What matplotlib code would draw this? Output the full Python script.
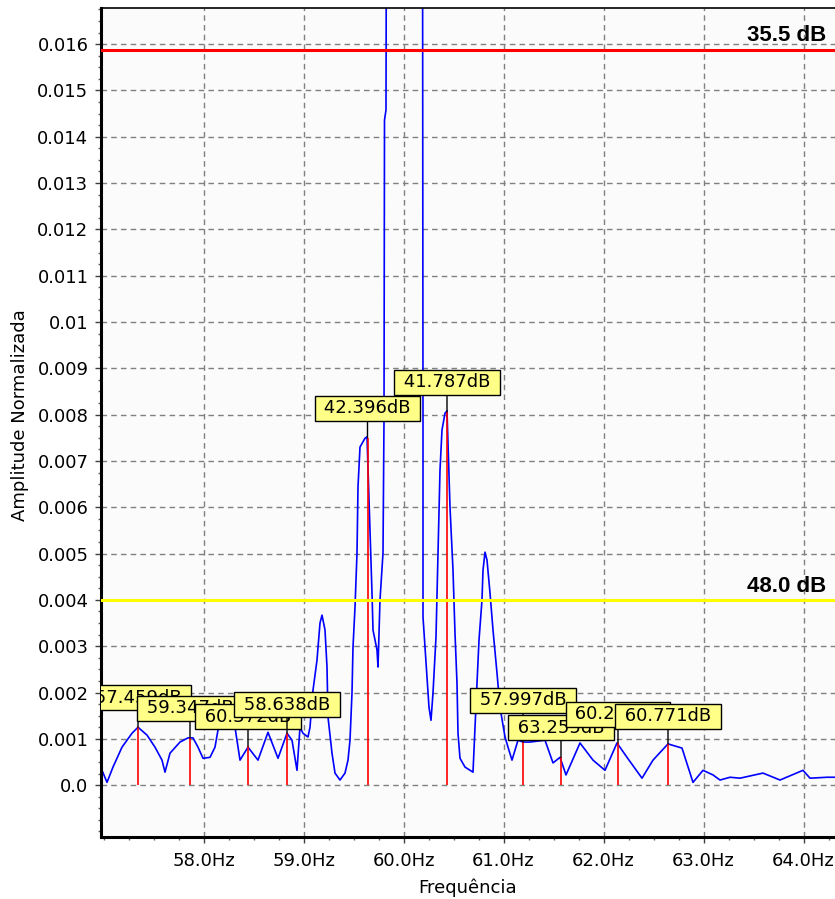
import matplotlib
matplotlib.use("Agg")
import matplotlib.pyplot as plt
from matplotlib.ticker import FixedLocator, MultipleLocator

# spectrum (Hz, normalised amplitude)
freq = [56.975, 56.985, 57.035, 57.095, 57.185, 57.285, 57.345, 57.435, 57.515, 57.585,
        57.615, 57.665, 57.765, 57.845, 57.895, 57.945, 57.995, 58.065, 58.115, 58.145,
        58.185, 58.245, 58.285, 58.315, 58.365, 58.445, 58.545, 58.645, 58.745, 58.835,
        58.885, 58.935, 58.965, 58.995, 59.045, 59.065, 59.095, 59.135, 59.165, 59.185,
        59.215, 59.235, 59.245, 59.285, 59.315, 59.365, 59.415, 59.445, 59.465, 59.485,
        59.495, 59.515, 59.535, 59.545, 59.565, 59.615, 59.635, 59.645, 59.665, 59.685,
        59.695, 59.735, 59.745, 59.765, 59.795, 59.805, 59.81, 59.825, 59.83, 60.005,
        60.19, 60.195, 60.195, 60.215, 60.235, 60.255, 60.275, 60.295, 60.325, 60.345,
        60.365, 60.385, 60.415, 60.435, 60.445, 60.465, 60.495, 60.515, 60.535, 60.545,
        60.565, 60.615, 60.695, 60.715, 60.735, 60.755, 60.785, 60.795, 60.815, 60.835,
        60.865, 60.895, 60.935, 60.965, 61.015, 61.045, 61.085, 61.145, 61.195, 61.265,
        61.415, 61.495, 61.565, 61.625, 61.765, 61.895, 62.015, 62.135, 62.235, 62.385,
        62.495, 62.645, 62.785, 62.895, 62.995, 63.095, 63.165, 63.265, 63.365, 63.595,
        63.765, 63.995, 64.065, 64.235, 64.325]
amp = [0.00037, 0.00032, 0.00006, 0.00039, 0.00082, 0.00112, 0.00125, 0.00108, 0.00082, 0.00054,
       0.00028, 0.00069, 0.00093, 0.00102, 0.00102, 0.00082, 0.00058, 0.00060, 0.00082, 0.00119,
       0.00151, 0.00158, 0.00136, 0.00125, 0.00054, 0.00082, 0.00054, 0.00114, 0.00058, 0.00112,
       0.00097, 0.00032, 0.00125, 0.00112, 0.00104, 0.00125, 0.00205, 0.00270, 0.00350, 0.00367,
       0.00335, 0.00255, 0.00147, 0.00069, 0.00026, 0.00011, 0.00026, 0.00054, 0.00097, 0.00199,
       0.00298, 0.00384, 0.00501, 0.00644, 0.00730, 0.00749, 0.00752, 0.00685, 0.00551, 0.00415,
       0.00335, 0.00292, 0.00255, 0.00400, 0.00501, 0.00788, 0.01436, 0.01458, 0.02000, 0.05000,
       0.02000, 0.00788, 0.00363, 0.00298, 0.00233, 0.00168, 0.00140, 0.00199, 0.00320, 0.00501,
       0.00680, 0.00767, 0.00803, 0.00808, 0.00739, 0.00600, 0.00464, 0.00328, 0.00220, 0.00112,
       0.00058, 0.00039, 0.00028, 0.00125, 0.00220, 0.00313, 0.00400, 0.00464, 0.00503, 0.00486,
       0.00415, 0.00335, 0.00242, 0.00168, 0.00104, 0.00082, 0.00054, 0.00097, 0.00093, 0.00093,
       0.00097, 0.00048, 0.00060, 0.00022, 0.00091, 0.00054, 0.00032, 0.00091, 0.00060, 0.00015,
       0.00054, 0.00089, 0.00080, 0.00006, 0.00032, 0.00022, 0.00011, 0.00017, 0.00015, 0.00026,
       0.00011, 0.00032, 0.00015, 0.00017, 0.00017]

# marked peaks
peak_freq = [57.345, 57.865, 58.445, 58.835, 59.64, 60.435, 61.195, 61.575, 62.145, 62.645]
peak_amp = [0.00125, 0.00102, 0.00084, 0.00112, 0.00750, 0.00806, 0.00093, 0.00060, 0.00091, 0.00089]
peak_labels = ["57.459dB", "59.347dB", "60.372dB", "58.638dB", "42.396dB",
               "41.787dB", "57.997dB", "63.255dB", "60.218dB", "60.771dB"]
stem_px = [17, 17, 17, 16, 17, 17, 29, 17, 16, 15]

# threshold lines
level_values = [0.01588, 0.004]
level_labels = ["35.5 dB", "48.0 dB"]
level_colors = ["#ff0000", "#ffff00"]

xticks = [58.0, 59.0, 60.0, 61.0, 62.0, 63.0, 64.0]
xtick_labels = ["58.0Hz", "59.0Hz", "60.0Hz", "61.0Hz", "62.0Hz", "63.0Hz", "64.0Hz"]
yticks = [0.0, 0.001, 0.002, 0.003, 0.004, 0.005, 0.006, 0.007, 0.008,
          0.009, 0.010, 0.011, 0.012, 0.013, 0.014, 0.015, 0.016]
ytick_labels = ["0.0", "0.001", "0.002", "0.003", "0.004", "0.005", "0.006", "0.007", "0.008",
                "0.009", "0.01", "0.011", "0.012", "0.013", "0.014", "0.015", "0.016"]

plt.rcParams['font.family'] = ['DejaVu Sans']

fig = plt.figure(figsize=(8.35, 8.99), dpi=100)
ax = fig.add_axes([101 / 835, 1 - 837 / 899, 1 - 101 / 835, (837 - 8) / 899])
ax.set_facecolor('#fbfbfb')

ax.plot(freq, amp, color='#0000ff', lw=1.2, zorder=2)

for i, (f, a, lab, st) in enumerate(zip(peak_freq, peak_amp, peak_labels, stem_px)):
    ax.vlines(f, 0, a, color='#ff0000', lw=1.2, zorder=3)
    ax.annotate(" " + lab + " ", xy=(f, a), xytext=(0, (st + 3.6) * 0.72),
                textcoords='offset points', ha='center', va='bottom', fontsize=13,
                bbox=dict(boxstyle='square,pad=0.2', fc='#ffff88', ec='black', lw=1),
                arrowprops=dict(arrowstyle='-', color='black', lw=1, shrinkA=0, shrinkB=0),
                zorder=10 + i, clip_on=True)

for val, lab, col in zip(level_values, level_labels, level_colors):
    ax.axhline(val, color=col, lw=2.2, zorder=4)
    ax.annotate(lab, xy=(0.988, val), xycoords=ax.get_yaxis_transform(),
                xytext=(0, 6), textcoords='offset points', ha='right', va='baseline',
                fontsize=16, fontweight='bold', family='Liberation Sans', zorder=5)

ax.set_xlim(56.975, 64.315)
ax.set_ylim(-0.00112, 0.01678)

ax.xaxis.set_major_locator(FixedLocator(xticks))
ax.set_xticklabels(xtick_labels)
ax.xaxis.set_minor_locator(MultipleLocator(0.25))
ax.yaxis.set_major_locator(FixedLocator(yticks))
ax.set_yticklabels(ytick_labels)
ax.yaxis.set_minor_locator(MultipleLocator(0.00025))

ax.tick_params(which='major', direction='out', length=4.5, width=1, labelsize=13, color='#404040')
ax.tick_params(axis='x', which='major', pad=6)
ax.tick_params(axis='y', which='major', pad=4.5)
ax.tick_params(which='minor', direction='out', length=2.5, width=1, color='#606060')

ax.grid(True, which='major', color='#808080', linestyle=(0, (4, 3)), lw=1)
ax.set_axisbelow(True)

ax.spines['right'].set_visible(False)
ax.spines['left'].set_linewidth(2.2)
ax.spines['bottom'].set_linewidth(2.2)
ax.spines['top'].set_linewidth(1.2)

fig.text(20 / 835, 1 - 415 / 899, "Amplitude Normalizada", rotation=90,
         ha='center', va='center', fontsize=13)
fig.text(468 / 835, 1 - 888 / 899, "Frequência", ha='center', va='center', fontsize=13)

fig.savefig("out.png", dpi=100)
